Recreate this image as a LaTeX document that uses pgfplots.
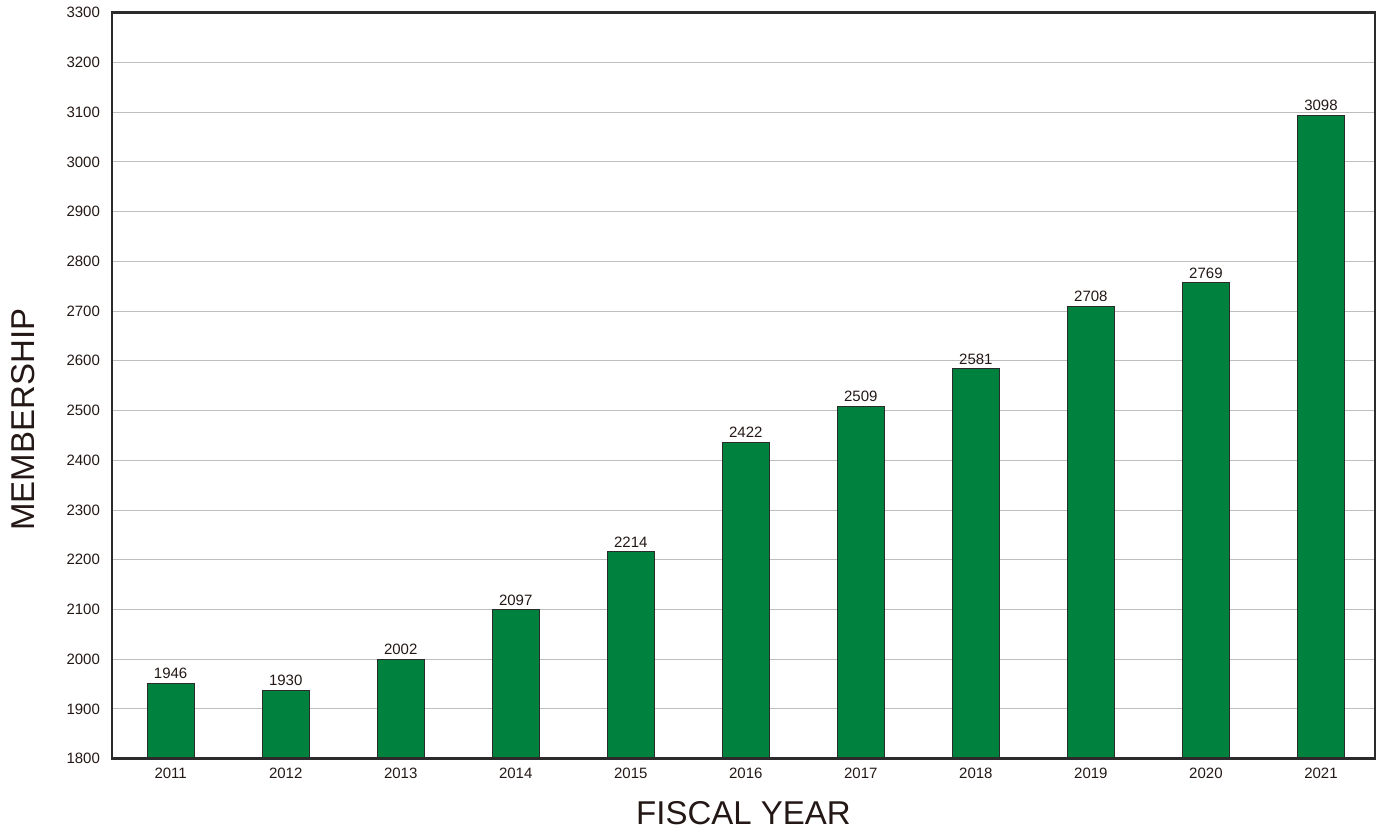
\documentclass[border=0pt]{standalone}
\usepackage{pgfplots}
\pgfplotsset{compat=1.18}
\usepackage{pgfplotstable}
\usepackage{fontspec}
\setmainfont{Liberation Sans}
\definecolor{txt}{HTML}{231815}
\definecolor{barg}{HTML}{00823E}
\definecolor{frame}{HTML}{2B2B2B}
\definecolor{gridc}{HTML}{BEBEBE}
\pgfplotstableread{
x y lab
0 1951 1946
1 1937 1930
2 2000 2002
3 2099 2097
4 2216 2214
5 2436 2422
6 2509 2509
7 2584 2581
8 2709 2708
9 2757 2769
10 3093 3098
}\datatab
\begin{document}
\begin{tikzpicture}
\begin{axis}[
  scale only axis,
  width=631.5pt, height=373pt,
  xmin=-0.51, xmax=10.47,
  ymin=1800, ymax=3300,
  ytick={1800,1900,...,3300},
  xtick={0,...,10},
  xticklabels={2011,2012,2013,2014,2015,2016,2017,2018,2019,2020,2021},
  major tick length=0pt,
  ymajorgrids,
  grid style={gridc, line width=0.5pt},
  axis line style={frame, line width=1.2pt},
  tick label style={font=\fontsize{7.5}{9}\selectfont, text=txt},
  /pgf/number format/assume math mode=true,
  /pgf/number format/1000 sep={},
  yticklabel style={xshift=-2.5pt},
  xticklabel style={yshift=-1pt},
  clip=false,
]
\addplot[ybar, bar width=23.5pt, fill=barg, draw=frame, line width=0.5pt,
  nodes near coords, point meta=explicit symbolic,
  every node near coord/.append style={font=\fontsize{7.5}{9}\selectfont, text=txt, inner sep=2pt}]
  table[x=x, y=y, meta=lab] {\datatab};
\draw[frame, line width=1.2pt] (rel axis cs:0,0) rectangle (rel axis cs:1,1);
\node[xshift=-44.5pt, yshift=-17pt, rotate=90, text=txt, font=\fontsize{16.5}{18}\selectfont] at (rel axis cs:0,0.5) {MEMBERSHIP};
\node[yshift=-27pt, text=txt, font=\fontsize{16.5}{18}\selectfont] at (rel axis cs:0.5,0) {FISCAL YEAR};
\end{axis}
\pgfresetboundingbox
\path (-56pt,-35pt) rectangle (634pt,379.35pt);
\end{tikzpicture}
\end{document}
